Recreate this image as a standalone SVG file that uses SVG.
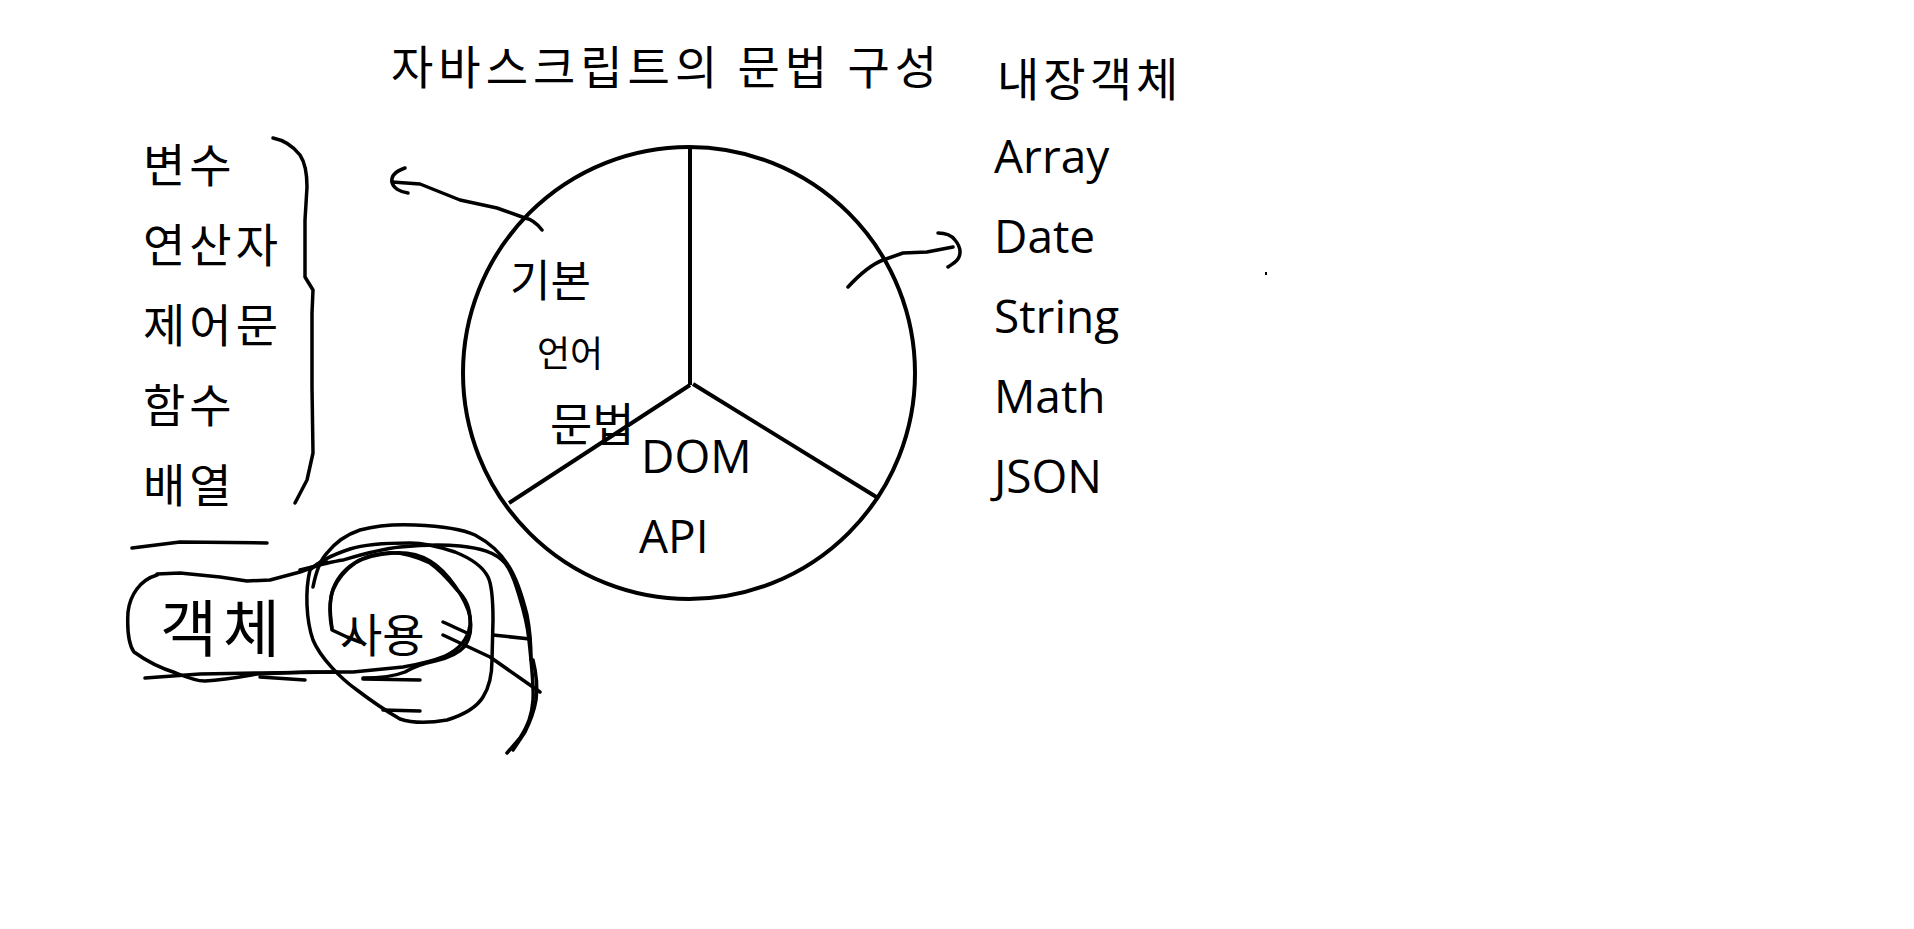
<svg xmlns="http://www.w3.org/2000/svg" width="1914" height="929" viewBox="0 0 1914 929">
<style>
.t{font-family:"Open Sans","Noto Sans CJK KR",sans-serif;fill:#000}
.k{font-family:"Noto Sans CJK KR",sans-serif;fill:#000}
.l{font-size:46px;letter-spacing:4px}
.pie{fill:none;stroke:#000;stroke-width:4}
.h{fill:none;stroke:#000;stroke-width:3.5;stroke-linecap:round;stroke-linejoin:round}
</style>
<rect width="1914" height="929" fill="#fff"/>
<g id="title"><text class="k" x="391" y="84" font-size="46" letter-spacing="5">자바스크립트의 문법 구성</text></g>
<g id="pie">
<circle class="pie" cx="689" cy="373" r="226"/>
<line class="pie" x1="690" y1="147" x2="690" y2="385"/>
<line class="pie" x1="690" y1="385" x2="509" y2="503"/>
<line class="pie" x1="693" y1="384" x2="878" y2="498"/>
</g>
<g id="basic-syntax">
<text class="k" x="510" y="297" font-size="44">기본</text>
<text class="k" x="537" y="367" font-size="36">언어</text>
<text class="k" x="550" y="441" font-size="46">문법</text>
</g>
<g id="dom-api">
<text class="t" x="641" y="473" font-size="46">DOM</text>
<text class="t" x="639" y="553" font-size="46">API</text>
</g>
<g id="syntax-list">
<text class="k l" x="143" y="182">변수</text>
<text class="k l" x="143" y="262">연산자</text>
<text class="k l" x="143" y="342">제어문</text>
<text class="k l" x="143" y="422">함수</text>
<text class="k l" x="143" y="502">배열</text>
</g>
<g id="builtin-list">
<text class="k l" x="997" y="96">내장객체</text>
<text class="t" x="994" y="173" font-size="46">Array</text>
<text class="t" x="994" y="253" font-size="46">Date</text>
<text class="t" x="994" y="333" font-size="46">String</text>
<text class="t" x="994" y="413" font-size="46">Math</text>
<text class="t" x="994" y="493" font-size="46">JSON</text>
</g>
<g id="object-use">
<text class="k" x="160" y="652" font-size="62" letter-spacing="6">객체</text>
<text class="k" x="340" y="652" font-size="46">사용</text>
</g>
<g id="connectors">
<path class="h" d="M542 230 C536 222 530 219 525 218 L497 208 L460 200 L420 184 L392 182"/>
<path class="h" d="M405 168 C396 171 391 176 392 182 C393 188 400 192 408 193"/>
<path class="h" d="M848 287 C860 274 870 265 883 260 L903 253 L927 252 L953 247"/>
<path class="h" d="M938 233 C947 233 952 236 955 240 C960 246 961 252 959 257 C957 262 952 264 948 267"/>
<path class="h" d="M273 138 C283 140 293 146 300 155 C306 164 307 175 307 187 L305 220 L305 277 L313 290 L312 313 L312 387 L313 453 L307 480 L295 503"/>
<path class="h" d="M132 548 L180 542 L267 543"/>
<path class="h" d="M157 575 C140 580 130 595 128 612 C127 630 129 645 134 652 C145 660 160 668 176 673 C188 678 196 681 205 681 C225 680 240 677 257 674 L307 672 L353 672 L403 667 C420 664 435 660 445 656 C458 650 468 640 470 625 C471 610 466 598 457 590 C449 580 440 570 430 563 C415 556 400 552 387 553 C372 554 360 558 350 566 C340 574 333 585 331 597 C329 610 330 620 332 630 L347 637 L360 642"/>
<path class="h" d="M157 574 L180 573 L220 577 L247 581 L270 580 L300 572 L327 562"/>
<path class="h" d="M310 570 C305 590 306 620 313 640 C320 657 340 678 357 690 C370 700 388 712 400 719 C412 723 430 723 447 720 C460 716 475 710 483 697 C490 686 492 675 492 660 L493 620 C493 600 492 585 488 577 C482 565 470 558 455 552 C440 547 425 543 410 543 C390 543 365 544 350 549 C335 554 320 560 310 570"/>
<path class="h" d="M300 570 C315 566 330 562 343 560 C360 555 380 549 400 547 C420 545 440 544 460 546 C480 548 495 552 505 563 C512 572 515 582 518 592 C522 605 527 620 529 640 C531 660 534 685 533 700 C532 715 528 725 520 738 L507 753"/>
<path class="h" d="M313 587 C316 572 320 560 327 553 C335 543 345 535 360 530 C375 526 395 524 415 525 C440 526 460 528 475 535 C490 543 500 552 508 565 C516 577 522 595 527 615 C530 630 531 648 531 660"/>
<path class="h" d="M533 660 C536 672 538 685 536 700 C534 712 530 722 525 732 L513 750"/>
<path class="h" d="M332 628 C330 615 329 600 333 590 C338 578 345 570 355 563 C365 557 378 554 393 553 C408 552 420 555 430 561 C440 567 448 576 455 586 C462 596 468 606 470 617 C472 628 470 638 465 646 C458 654 448 658 435 661 C425 663 415 666 405 672 C395 676 380 678 363 678"/>
<path class="h" d="M145 678 L200 674 L260 673 L337 672"/>
<path class="h" d="M260 677 L305 680"/>
<path class="h" d="M363 679 L420 680"/>
<path class="h" d="M383 710 L420 711"/>
<path class="h" d="M443 622 C452 626 460 630 467 633"/>
<path class="h" d="M443 635 L490 657 L540 692"/>
<path class="h" d="M493 635 L530 639"/>
</g>
<rect x="1265" y="272" width="2" height="3" fill="#000"/>
</svg>
